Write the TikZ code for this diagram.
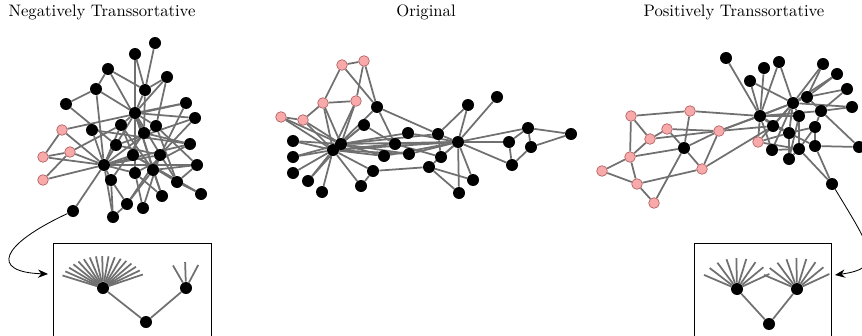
\documentclass[tikz,border=0pt]{standalone}
\usetikzlibrary{arrows.meta}
\definecolor{linkgray}{RGB}{112,112,112}
\definecolor{vtxpink}{RGB}{248,170,170}
\definecolor{rimpink}{RGB}{176,96,96}
\pgfdeclarelayer{back}
\pgfsetlayers{back,main}

\begin{document}
\begin{tikzpicture}[x=0.6pt, y=-0.6pt,
    vtx/.style={circle, fill=black, inner sep=0pt, minimum size=7.2pt},
    pinkvtx/.style={circle, fill=vtxpink, draw=rimpink, line width=0.4pt, inner sep=0pt, minimum size=6.4pt},
    link/.style={draw=linkgray, line width=1.05pt},
    inset/.style={draw=black, line width=0.5pt},
    pointer/.style={-{Stealth[length=6pt,width=5pt]}, line width=0.5pt}]
    \path[use as bounding box, clip] (0,0) rectangle (862,335);

    % titles
    \node (tneg) at (102,12) {Negatively Transsortative};
    \node (torig) at (426,12) {Original};
    \node (tpos) at (734,12) {Positively Transsortative};

    % negatively transsortative graph
    \foreach \nm/\x/\y in {n1/155/43, n2/135/54, n3/108/69, n4/167/77, n5/96/89,
        n6/145/90, n7/66/104, n8/186/103, n9/135/113, n10/195/118, n11/92/130,
        n12/121/125, n13/156/126, n14/144/133, n15/190/144, n16/116/145,
        n17/133/155, n18/160/155, n19/104/165, n20/197/165, n21/135/173,
        n22/153/170, n23/111/180, n24/177/182, n25/162/196, n26/201/194,
        n27/127/204, n28/143/208, n29/73/211, n30/113/217}
        \node[vtx] (\nm) at (\x,\y) {};
    \foreach \nm/\x/\y in {n31/62/130, n32/43/157, n33/70/152, n34/43/180}
        \node[pinkvtx] (\nm) at (\x,\y) {};
    \begin{pgfonlayer}{back}
    \foreach \a/\b in {n1/n6, n2/n9, n2/n6, n3/n5, n3/n6, n3/n14, n4/n6, n4/n13,
        n4/n9, n5/n7, n5/n19, n5/n9, n7/n16, n8/n31, n8/n22, n8/n9, n9/n6, n9/n12,
        n9/n13, n9/n14, n9/n19, n9/n21, n9/n22, n9/n25, n9/n24, n10/n16, n10/n18,
        n11/n19, n11/n15, n31/n32, n31/n19, n32/n33, n32/n19, n33/n19, n33/n12,
        n34/n19, n34/n33, n12/n19, n12/n17, n12/n22, n13/n19, n13/n20, n13/n24,
        n14/n15, n14/n23, n15/n19, n15/n21, n16/n19, n16/n18, n17/n19, n17/n24,
        n17/n26, n18/n19, n18/n28, n18/n27, n19/n20, n19/n21, n19/n23, n19/n29,
        n19/n30, n20/n22, n20/n24, n21/n28, n21/n25, n22/n27, n22/n25, n23/n30,
        n23/n27, n24/n26, n30/n27, n6/n14, n10/n9}
        \draw[link] (\a) -- (\b);
    \end{pgfonlayer}

    % original graph
    \foreach \nm/\x/\y in {o7/377/107, o8/364/125, o9/341/144, o10/333/150,
        o11/293/141, o12/293/157, o13/293/173, o14/308/181, o15/322/192,
        o16/361/186, o17/373/171, o18/384/156, o19/395/144, o20/408/133,
        o21/409/154, o22/429/167, o23/438/134, o24/441/157, o25/458/142,
        o26/468/105, o27/497/97, o28/459/193, o29/473/180, o30/509/142,
        o31/528/128, o32/531/147, o33/512/165, o34/571/134}
        \node[vtx] (\nm) at (\x,\y) {};
    \foreach \nm/\x/\y in {o1/342/65, o2/364/61, o3/323/103, o4/356/101,
        o5/281/117, o6/303/120}
        \node[pinkvtx] (\nm) at (\x,\y) {};
    \begin{pgfonlayer}{back}
    \foreach \a/\b in {o1/o2, o1/o3, o1/o7, o2/o4, o2/o7, o3/o4, o3/o6, o3/o9,
        o3/o10, o4/o9, o4/o10, o5/o6, o5/o10, o5/o9, o6/o10, o6/o9, o7/o10,
        o7/o23, o7/o19, o8/o9, o8/o10, o8/o19, o9/o11, o9/o12, o9/o20, o9/o23,
        o9/o25, o9/o21, o9/o18, o9/o14, o10/o11, o10/o12, o10/o13, o10/o14,
        o10/o15, o10/o16, o10/o17, o10/o19, o10/o25, o10/o21, o10/o18, o16/o17,
        o17/o22, o18/o25, o19/o25, o20/o25, o21/o25, o22/o25, o22/o28, o22/o29,
        o25/o23, o25/o26, o25/o27, o25/o28, o25/o29, o25/o30, o25/o31, o25/o33,
        o25/o24, o23/o26, o23/o24, o24/o19, o30/o31, o31/o32, o31/o34, o32/o34,
        o30/o33, o33/o32}
        \draw[link] (\a) -- (\b);
    \end{pgfonlayer}

    % positively transsortative graph
    \foreach \nm/\x/\y in {s1/726/58, s2/764/68, s3/779/62, s4/750/81,
        s5/823/64, s6/837/74, s7/847/89, s8/852/107, s9/807/97, s10/793/103,
        s11/821/111, s12/760/116, s13/799/116, s14/773/126, s15/815/127,
        s16/789/133, s17/772/150, s18/799/149, s19/815/146, s20/789/159,
        s21/859/147, s22/832/184, s23/684/148}
        \node[vtx] (\nm) at (\x,\y) {};
    \foreach \nm/\x/\y in {s24/631/116, s25/690/111, s26/667/129, s27/650/139,
        s28/719/131, s29/758/142, s30/630/157, s31/602/171, s32/702/169,
        s33/637/184, s34/654/203}
        \node[pinkvtx] (\nm) at (\x,\y) {};
    \begin{pgfonlayer}{back}
    \foreach \a/\b in {s24/s25, s24/s27, s24/s30, s25/s23, s25/s12, s26/s28,
        s26/s23, s26/s27, s27/s28, s27/s30, s30/s23, s30/s31, s30/s33, s31/s33,
        s33/s34, s33/s32, s23/s34, s23/s32, s23/s28, s28/s32, s32/s14, s28/s12,
        s28/s10, s28/s14, s1/s12, s4/s12, s4/s10, s2/s12, s3/s12, s3/s10,
        s5/s10, s6/s10, s6/s9, s7/s11, s7/s9, s8/s11, s8/s10, s9/s10, s9/s11,
        s10/s12, s10/s13, s10/s14, s10/s16, s10/s17, s11/s15, s11/s12, s11/s21,
        s12/s13, s12/s14, s12/s16, s12/s17, s13/s20, s15/s19, s15/s18, s14/s16,
        s16/s20, s16/s19, s17/s18, s18/s22, s19/s22, s19/s21, s20/s18, s29/s12,
        s29/s10, s29/s16, s29/s18, s13/s18, s15/s16, s5/s9}
        \draw[link] (\a) -- (\b);
    \end{pgfonlayer}

    % left inset
    \draw[inset] (53,243) rectangle (211,345);
    \node[vtx] (b1) at (103,288) {};
    \node[vtx] (b2) at (186,288) {};
    \node[vtx] (b3) at (146,322) {};
    \begin{pgfonlayer}{back}
    \foreach \a in {157,148.75,...,24}
        \draw[link] (b1) -- ++(-\a:44 and 32);
    \foreach \a in {120,92,62}
        \draw[link] (b2) -- ++(-\a:26);
    \draw[link] (b1) -- (b3) -- (b2);
    \end{pgfonlayer}
    \coordinate (inL) at (48,274);
    \draw[pointer] (n29) .. controls (0,245) and (-10,272) .. (inL);

    % right inset
    \draw[inset] (694,243) rectangle (831,345);
    \node[vtx] (c1) at (737,289) {};
    \node[vtx] (c2) at (797,289) {};
    \node[vtx] (c3) at (769,324) {};
    \begin{pgfonlayer}{back}
    \foreach \a in {153,137.5,...,28}
        \draw[link] (c1) -- ++(-\a:37 and 31)
                    (c2) -- ++(-\a:37 and 31);
    \draw[link] (c1) -- (c3) -- (c2);
    \end{pgfonlayer}
    \coordinate (inR) at (835,275);
    \draw[pointer] (s22) .. controls (872,250) and (885,268) .. (inR);
\end{tikzpicture}
\end{document}
